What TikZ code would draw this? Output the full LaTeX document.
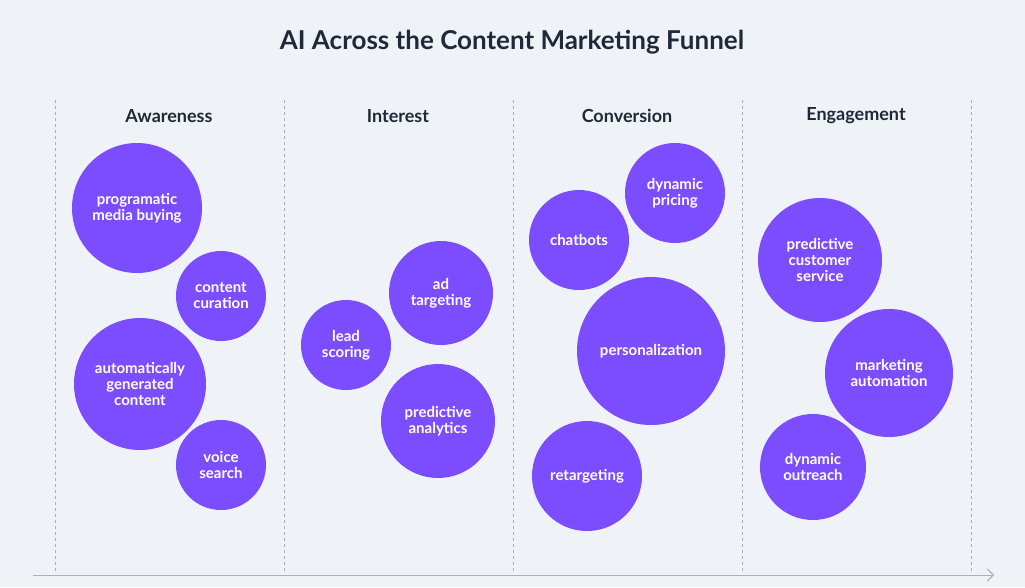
\documentclass[tikz,border=0pt]{standalone}
\usepackage{fontspec}
\setmainfont{Lato}
\usetikzlibrary{arrows.meta}
\definecolor{bg}{HTML}{EFF3F7}
\definecolor{bub}{HTML}{7C4DFF}
\definecolor{ink}{HTML}{1F2937}
\definecolor{grid}{HTML}{A9B0BA}
\begin{document}
\begin{tikzpicture}[x=1pt,y=-1pt,
  bubble/.style={circle,fill=bub,text=white,font=\fontsize{15}{16}\selectfont\bfseries,align=center,inner sep=0pt},
  head/.style={font=\fontsize{18}{20}\selectfont\bfseries,text=ink},
  sep/.style={grid,dashed,line width=0.8pt}]
\fill[bg] (0,0) rectangle (1025,587);
\useasboundingbox (0,0) rectangle (1025,587);
\node[font=\fontsize{26}{28}\selectfont\bfseries,text=ink] (title) at (512,42) {AI Across the Content Marketing Funnel};
\foreach \x [count=\i] in {55,284,513,742,971}{
  \coordinate (t\i) at (\x,100); \coordinate (b\i) at (\x,572);
  \draw[sep] (t\i) -- (b\i);}
\coordinate (as) at (33,575); \coordinate (ae) at (994,575);
\draw[grid,line width=1pt,-{Straight Barb[length=6pt]}] (as) -- (ae);
\node[head] (h1) at (169,116) {Awareness};
\node[head] (h2) at (398,116) {Interest};
\node[head] (h3) at (627,116) {Conversion};
\node[head] (h4) at (856,116) {Engagement};
\node[bubble,minimum size=130pt] (c1) at (137,208) {programatic\\media buying};
\node[bubble,minimum size=90pt] (c2) at (221,296) {content\\curation};
\node[bubble,minimum size=132pt] (c3) at (140,384) {automatically\\generated\\content};
\node[bubble,minimum size=90pt] (c4) at (221,465) {voice\\search};
\node[bubble,minimum size=90pt] (c5) at (346,345) {lead\\scoring};
\node[bubble,minimum size=104pt] (c6) at (441,293) {ad\\targeting};
\node[bubble,minimum size=114pt] (c7) at (438,421) {predictive\\analytics};
\node[bubble,minimum size=100pt] (c8) at (675,193) {dynamic\\pricing};
\node[bubble,minimum size=100pt] (c9) at (579,240) {chatbots};
\node[bubble,minimum size=148pt] (c10) at (651,351) {personalization};
\node[bubble,minimum size=110pt] (c11) at (587,476) {retargeting};
\node[bubble,minimum size=124pt] (c12) at (820,260) {predictive\\customer\\service};
\node[bubble,minimum size=128pt] (c13) at (889,373) {marketing\\automation};
\node[bubble,minimum size=106pt] (c14) at (813,467) {dynamic\\outreach};
\end{tikzpicture}
\end{document}
